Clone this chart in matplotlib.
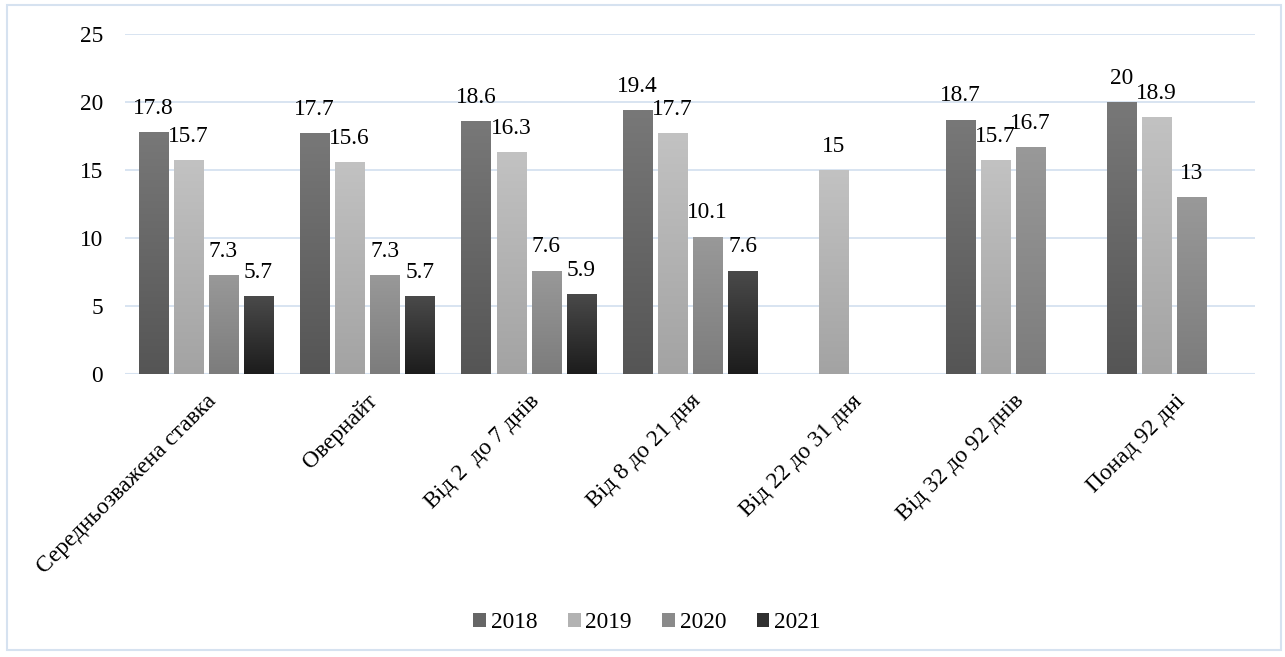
import numpy as np
import matplotlib
matplotlib.use("Agg")
import matplotlib.pyplot as plt
from matplotlib.patches import Rectangle, Patch
from matplotlib.colors import LinearSegmentedColormap

plt.rcParams['font.family'] = 'serif'
plt.rcParams['font.serif'] = ['Liberation Serif', 'DejaVu Serif']

categories = ["Середньозважена ставка", "Овернайт", "Від 2  до 7 днів", "Від 8 до 21 дня",
              "Від 22 до 31 дня", "Від 32 до 92 днів", "Понад 92 дні"]
years = ["2018", "2019", "2020", "2021"]
v2018 = [17.8, 17.7, 18.6, 19.4, np.nan, 18.7, 20]
v2019 = [15.7, 15.6, 16.3, 17.7, 15, 15.7, 18.9]
v2020 = [7.3, 7.3, 7.6, 10.1, np.nan, 16.7, 13]
v2021 = [5.7, 5.7, 5.9, 7.6, np.nan, np.nan, np.nan]
series = [v2018, v2019, v2020, v2021]

grad = [("#787878", "#555555"), ("#c2c2c2", "#a3a3a3"), ("#999999", "#7c7c7c"), ("#4a4a4a", "#1c1c1c")]
mid = ["#666666", "#b2b2b2", "#8a8a8a", "#303030"]
FS = 16.8
FAM = "Liberation Serif"

fig = plt.figure(figsize=(12.85, 6.57), dpi=100)
ax = fig.add_axes([125/1285, 1-374/657, (1255-125)/1285, (374-34)/657])

x = np.arange(len(categories))
step = 0.217
width = 0.18
grid_c = "#d6e2f0"

ax.set_xlim(-0.5, len(categories)-0.5)
ax.set_ylim(0, 25)
ax.set_yticks([0, 5, 10, 15, 20, 25])
for y in [5, 10, 15, 20, 25]:
    ax.axhline(y, color=grid_c, lw=1.3, zorder=0)

for i, vals in enumerate(series):
    offs = (i - 1.5) * step
    arr = np.array(vals, dtype=float)
    bars = ax.bar(x + offs, np.nan_to_num(arr), width, color=mid[i], zorder=2)
    cmap = LinearSegmentedColormap.from_list("g%d" % i, [grad[i][1], grad[i][0]])
    for b, v in zip(bars, arr):
        if np.isnan(v):
            b.set_visible(False)
            continue
        bx, by = b.get_x(), b.get_y()
        bw, bh = b.get_width(), b.get_height()
        g = np.linspace(0, 1, 256).reshape(-1, 1)
        im = ax.imshow(g, cmap=cmap, origin="lower", aspect="auto",
                       extent=[bx, bx + bw, by, by + bh], zorder=3)
        im.set_clip_path(b)
        ax.annotate(("%g" % v), (bx + bw/2, bh), xytext=(0, 9.5), textcoords="offset points",
                    ha="center", va="bottom", fontsize=FS, family=FAM, zorder=4)

ax.set_xlim(-0.5, len(categories)-0.5)
ax.set_ylim(0, 25)
ax.axhline(0, color=grid_c, lw=1.5, zorder=1)
for s in ax.spines.values():
    s.set_visible(False)
ax.tick_params(axis="both", length=0, labelsize=FS)
ax.tick_params(axis="y", pad=16)
ax.set_xticks(x)
ax.set_xticklabels(categories, rotation=45, ha="right", va="top", rotation_mode="anchor",
                   family=FAM)
for t in ax.get_yticklabels():
    t.set_family(FAM)
ax.tick_params(axis="x", pad=12)

handles = [Patch(facecolor=mid[i], label=years[i]) for i in range(4)]
fig.legend(handles=handles, loc="center", bbox_to_anchor=(647/1285, 1-623/657), ncol=4,
           frameon=False, prop={"family": FAM, "size": FS}, handlelength=0.55, handleheight=0.55,
           handletextpad=0.2, columnspacing=1.3)

fig.add_artist(Rectangle((7/1285, 7/657), 1274/1285, 645/657, transform=fig.transFigure,
                         fill=False, edgecolor=grid_c, lw=1.5))

fig.savefig("out.png", dpi=100)
